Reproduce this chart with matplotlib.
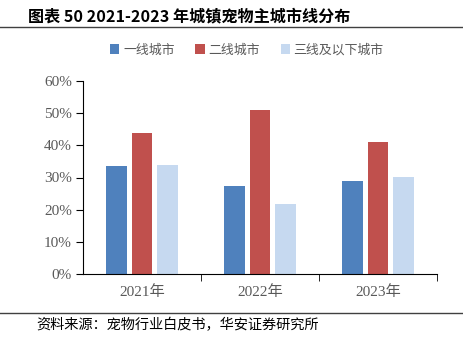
import matplotlib
matplotlib.use("Agg")
import matplotlib.pyplot as plt
from matplotlib.lines import Line2D
import numpy as np

categories = ["2021年", "2022年", "2023年"]
series_names = ["一线城市", "二线城市", "三线及以下城市"]
tier1 = [33.6, 27.4, 28.9]
tier2 = [43.8, 51.0, 41.0]
tier3 = [33.9, 21.8, 30.2]
colors = ["#4F81BD", "#C0504D", "#C6D9F0"]
yticks = [0, 10, 20, 30, 40, 50, 60]

W, H = 464, 343
fig = plt.figure(figsize=(W / 100, H / 100), dpi=100)

cjk = ["Noto Sans CJK SC", "DejaVu Sans"]
serif_cjk = ["Liberation Serif", "Noto Sans CJK SC"]

# axes: left 83, right 437, top 81, bottom 274 (pixels)
ax = fig.add_axes([83 / W, 1 - 274 / H, (437 - 83) / W, (274 - 81) / H])

x = np.arange(len(categories))
bw = 0.17
off = 0.216
for vals, c, dx, name in zip([tier1, tier2, tier3], colors, [-off, 0, off], series_names):
    ax.bar(x + dx, vals, width=bw, color=c, label=name, zorder=2)

ax.set_xlim(-0.5, 2.5)
ax.set_ylim(0, 60)
ax.set_yticks(yticks)
ax.set_yticklabels([f"{v}%" for v in yticks], family="Liberation Serif", fontsize=11, color="#595959")
ax.set_xticks(x)
ax.set_xticklabels(categories, family=serif_cjk, fontsize=11, color="#595959")
ax.tick_params(axis="x", length=0, pad=8)
ax.set_xticks([0.5, 1.5, 2.5], minor=True)
ax.tick_params(axis="x", which="minor", length=5, direction="out", color="black")
ax.tick_params(axis="y", length=5, direction="out", color="black", pad=3)
for s in ["top", "right"]:
    ax.spines[s].set_visible(False)
ax.spines["left"].set_color("black")
ax.spines["bottom"].set_color("black")

leg = fig.legend(*ax.get_legend_handles_labels(), loc="center", bbox_to_anchor=(247 / W, 1 - 50 / H),
                 ncol=3, frameon=False, prop={"family": cjk, "size": 9.3},
                 handlelength=0.7, handleheight=0.7, handletextpad=0.3, columnspacing=1.6,
                 borderpad=0, borderaxespad=0)
for t in leg.get_texts():
    t.set_color("#595959")

# title
fig.text(28 / W, 1 - 16 / H, "图表 50 2021-2023 年城镇宠物主城市线分布", family=cjk,
         fontsize=11.6, fontweight="bold", va="center", ha="left", color="black")
fig.add_artist(Line2D([0, 1], [1 - 27 / H, 1 - 27 / H], color="#404040", lw=1.0))
fig.add_artist(Line2D([0, 1], [1 - 313 / H, 1 - 313 / H], color="#404040", lw=1.0))
fig.text(36 / W, 1 - 325 / H, "资料来源：宠物行业白皮书，华安证券研究所", family=cjk,
         fontsize=10.2, va="center", ha="left", color="black")

fig.savefig("out.png", dpi=100)
